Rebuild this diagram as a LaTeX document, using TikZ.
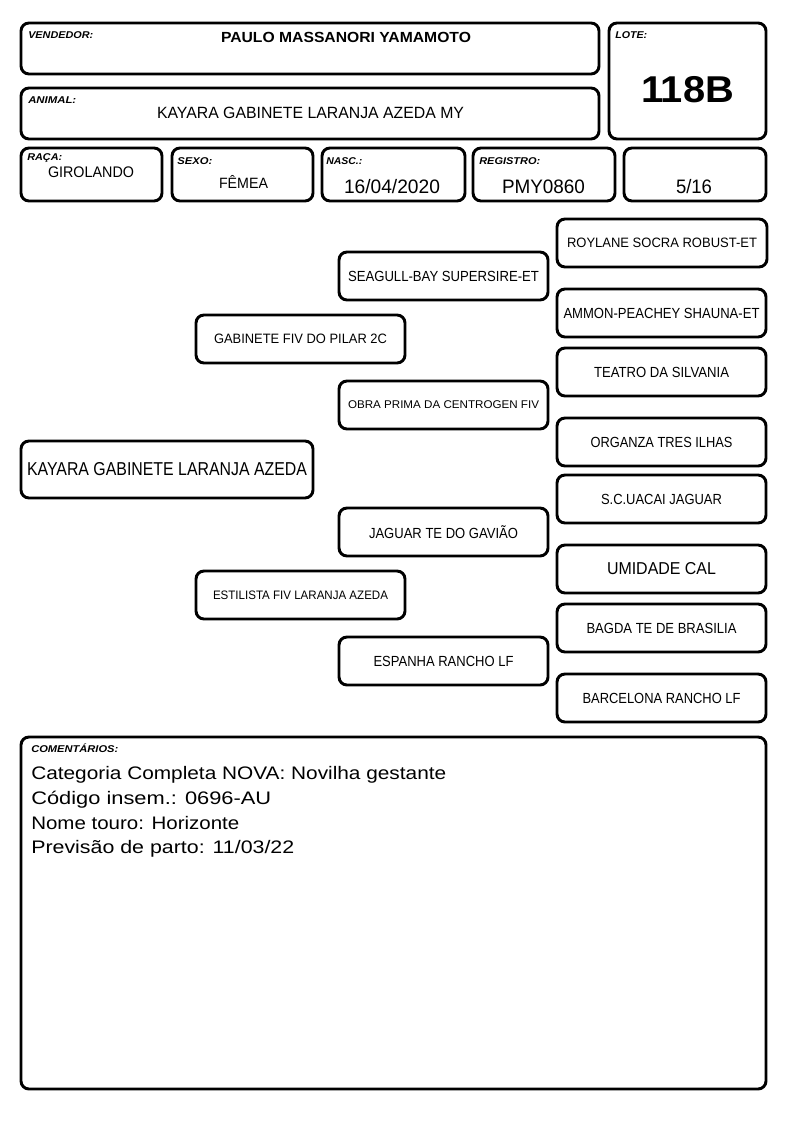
\documentclass[tikz,border=0pt]{standalone}
\usepackage{fontspec}
\setmainfont{Liberation Sans}
\usepackage{graphicx}
\newcommand\fitw[2]{\setbox0=\hbox{#2}\pgfmathsetmacro\fitwsc{#1*0.75/\the\wd0}\scalebox{\fitwsc}[1]{\box0}}
\newcommand\fsz[1]{\fontsize{#1}{#1}\selectfont}
\tikzset{
  bx/.style={draw, line width=2.2pt, rounded corners=6pt, inner sep=0pt},
  bw/.style={minimum width=#1*0.75pt},
  bh/.style={minimum height=#1*0.75pt},
  pb/.style={bx, bw=209, bh=48, font=\fsz{11}},
  lbl/.style={anchor=base west, inner sep=0pt, font=\fsz{7.4}\bfseries\itshape},
  val/.style={anchor=base, inner sep=0pt},
  cmt/.style={anchor=base west, inner sep=0pt, font=\fsz{13.6}},
}
\begin{document}
\begin{tikzpicture}[x=0.75pt, y=-0.75pt]
\useasboundingbox (0,0) rectangle (794,1123);
% header boxes
\node[bx, bw=578, bh=51] (vend) at (310,48.5) {};
\node[bx, bw=157, bh=116] (lote) at (687.5,81) {};
\node[bx, bw=578, bh=51] (animal) at (310,113.5) {};
\node[bx, bw=141, bh=53] (raca) at (91.5,174.5) {};
\node[bx, bw=141, bh=53] (sexo) at (242.5,174.5) {};
\node[bx, bw=143, bh=53] (nasc) at (393.5,174.5) {};
\node[bx, bw=142, bh=53] (reg) at (544,174.5) {};
\node[bx, bw=142, bh=53] (frac) at (695,174.5) {};
% labels
\node[lbl] (vendl) at (28,38.5) {\fitw{65}{VENDEDOR:}};
\node[lbl] (lotel) at (615,38.5) {\fitw{32}{LOTE:}};
\node[lbl] (animall) at (28,103.3) {\fitw{48}{ANIMAL:}};
\node[lbl] (racal) at (27,161) {\fitw{35}{RAÇA:}};
\node[lbl] (sexol) at (177,164.5) {\fitw{35}{SEXO:}};
\node[lbl] (nascl) at (326,164.5) {\fitw{36}{NASC.:}};
\node[lbl] (regl) at (479,164.5) {\fitw{61}{REGISTRO:}};
% values
\node[val, font=\fsz{11}\bfseries] (vendv) at (346,42.7) {\fitw{250}{PAULO MASSANORI YAMAMOTO}};
\node[val, font=\fsz{12.2}] (animalv) at (310.5,119) {\fitw{307}{KAYARA GABINETE LARANJA AZEDA MY}};
\node[val, font=\fsz{28}\bfseries] (lotev) at (687.5,102.7) {\fitw{93}{118B}};
\node[val, font=\fsz{11.5}] (racav) at (91,177.7) {\fitw{86}{GIROLANDO}};
\node[val, font=\fsz{11.2}] (sexov) at (243.5,188.3) {\fitw{49}{FÊMEA}};
\node[val, font=\fsz{14.6}] (nascv) at (392,193.3) {\fitw{96}{16/04/2020}};
\node[val, font=\fsz{14.6}] (regv) at (543.5,193.3) {\fitw{83}{PMY0860}};
\node[val, font=\fsz{14.6}] (fracv) at (694,193.3) {\fitw{36}{5/16}};
% pedigree
\node[pb, bw=210, font=\fsz{10.2}] (roylane) at (662,243) {\fitw{190}{ROYLANE SOCRA ROBUST-ET}};
\node[pb] (seagull) at (443.5,276) {\fitw{191}{SEAGULL-BAY SUPERSIRE-ET}};
\node[pb] (ammon) at (661.5,313) {\fitw{196}{AMMON-PEACHEY SHAUNA-ET}};
\node[pb, font=\fsz{10.2}] (gabinete) at (300.5,339) {\fitw{173}{GABINETE FIV DO PILAR 2C}};
\node[pb] (teatro) at (661.5,372) {\fitw{135}{TEATRO DA SILVANIA}};
\node[pb, font=\fsz{8.4}] (obra) at (443.5,405) {\fitw{191}{OBRA PRIMA DA CENTROGEN FIV}};
\node[pb] (organza) at (661.5,442) {\fitw{142}{ORGANZA TRES ILHAS}};
\node[pb, bw=292, bh=57, font=\fsz{14}] (kayara) at (167,469.5) {\fitw{280}{KAYARA GABINETE LARANJA AZEDA}};
\node[pb] (uacai) at (661.5,499) {\fitw{121}{S.C.UACAI JAGUAR}};
\node[pb] (jaguar) at (443.5,532) {\fitw{149}{JAGUAR TE DO GAVIÃO}};
\node[pb, font=\fsz{12.9}] (umidade) at (661.5,569) {\fitw{109}{UMIDADE CAL}};
\node[pb, font=\fsz{9.2}] (estilista) at (300.5,595) {\fitw{175}{ESTILISTA FIV LARANJA AZEDA}};
\node[pb] (bagda) at (661.5,628) {\fitw{150}{BAGDA TE DE BRASILIA}};
\node[pb] (espanha) at (443.5,661) {\fitw{140}{ESPANHA RANCHO LF}};
\node[pb] (barcelona) at (661.5,698) {\fitw{158}{BARCELONA RANCHO LF}};
% comments
\node[bx, bw=745, bh=352] (coment) at (393.5,913) {};
\node[lbl] (comentl) at (31,752.7) {\fitw{87}{COMENTÁRIOS:}};
\node[cmt] (c1) at (31,779) {\fitw{415}{Categoria Completa NOVA: Novilha gestante}};
\node[cmt] (c2) at (31,804) {\fitw{240}{Código insem.: 0696-AU}};
\node[cmt] (c3) at (31,829) {\fitw{208}{Nome touro: Horizonte}};
\node[cmt] (c4) at (31,853) {\fitw{263}{Previsão de parto: 11/03/22}};
\end{tikzpicture}
\end{document}
